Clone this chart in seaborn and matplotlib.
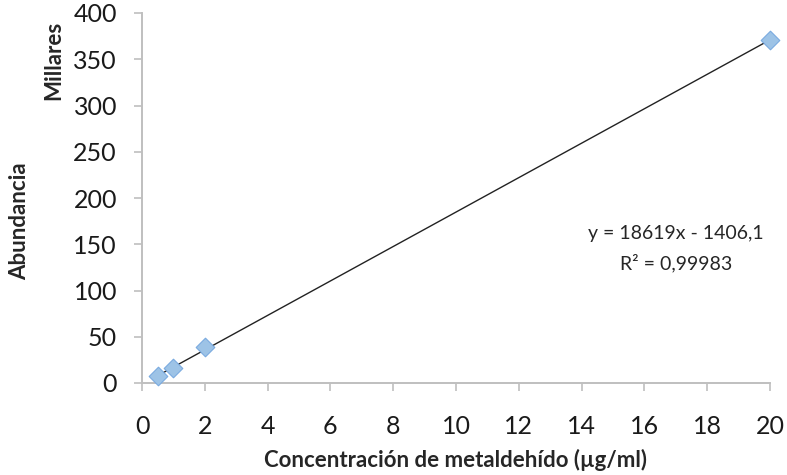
import matplotlib
matplotlib.use("Agg")
import matplotlib.pyplot as plt
import seaborn as sns
import numpy as np
import pandas as pd

# Data (thousands)
conc = [0.5, 1, 2, 20]
abund = [8, 16, 39, 371]
slope_k = 18.619
intercept_k = -1.4061
x_ticks = list(range(0, 21, 2))
y_ticks = list(range(0, 401, 50))
eq_text = "y = 18619x - 1406,1"
r2_text = "R² = 0,99983"

sns.set_theme(style="white")
plt.rcParams['font.family'] = ['Lato', 'DejaVu Sans']

df = pd.DataFrame({"conc": conc, "abund": abund})

W, H = 787, 475
fig = plt.figure(figsize=(7.87, 4.75), dpi=100)
ax = fig.add_axes([142 / W, 1 - 383 / H, (770 - 142) / W, (383 - 13) / H])

# trendline
xl = np.array([min(conc), max(conc)])
ax.plot(xl, slope_k * xl + intercept_k, color="#222222", lw=1.0, zorder=2)

sns.scatterplot(data=df, x="conc", y="abund", marker="D", s=90,
                color="#9DC3E6", edgecolor="#7AAAE0", linewidth=0.8, ax=ax, zorder=3,
                clip_on=False)

ax.set_xlim(0, 20)
ax.set_ylim(0, 400)
ax.set_xticks(x_ticks)
ax.set_yticks(y_ticks)
ax.tick_params(axis="both", labelsize=18, colors="#BFBFBF", labelcolor="#1a1a1a",
               length=6, width=1.2, direction="out", bottom=True, left=True)
ax.tick_params(axis="x", pad=17)
ax.tick_params(axis="y", pad=12)
for s in ["top", "right"]:
    ax.spines[s].set_visible(False)
for s in ["left", "bottom"]:
    ax.spines[s].set_color("#BFBFBF")
    ax.spines[s].set_linewidth(1.4)

ax.set_xlabel("Concentración de metaldehído (µg/ml)", fontsize=16, fontweight="bold", va="center")
ax.set_ylabel("Abundancia", fontsize=16, fontweight="bold", va="center")
ax.xaxis.set_label_coords((456 - 142) / 628, -(460 - 383) / 370)
ax.yaxis.set_label_coords((20 - 142) / 628, (383 - 221) / 370)

fig.text(54 / W, 1 - 60 / H, "Millares", rotation=90, fontsize=16, fontweight="bold",
         ha="center", va="center")

fig.text(676 / W, 1 - 233 / H, eq_text, fontsize=14, ha="center", va="center")
fig.text(676 / W, 1 - 263 / H, r2_text, fontsize=14, ha="center", va="center")

fig.savefig("out.png", dpi=100)
